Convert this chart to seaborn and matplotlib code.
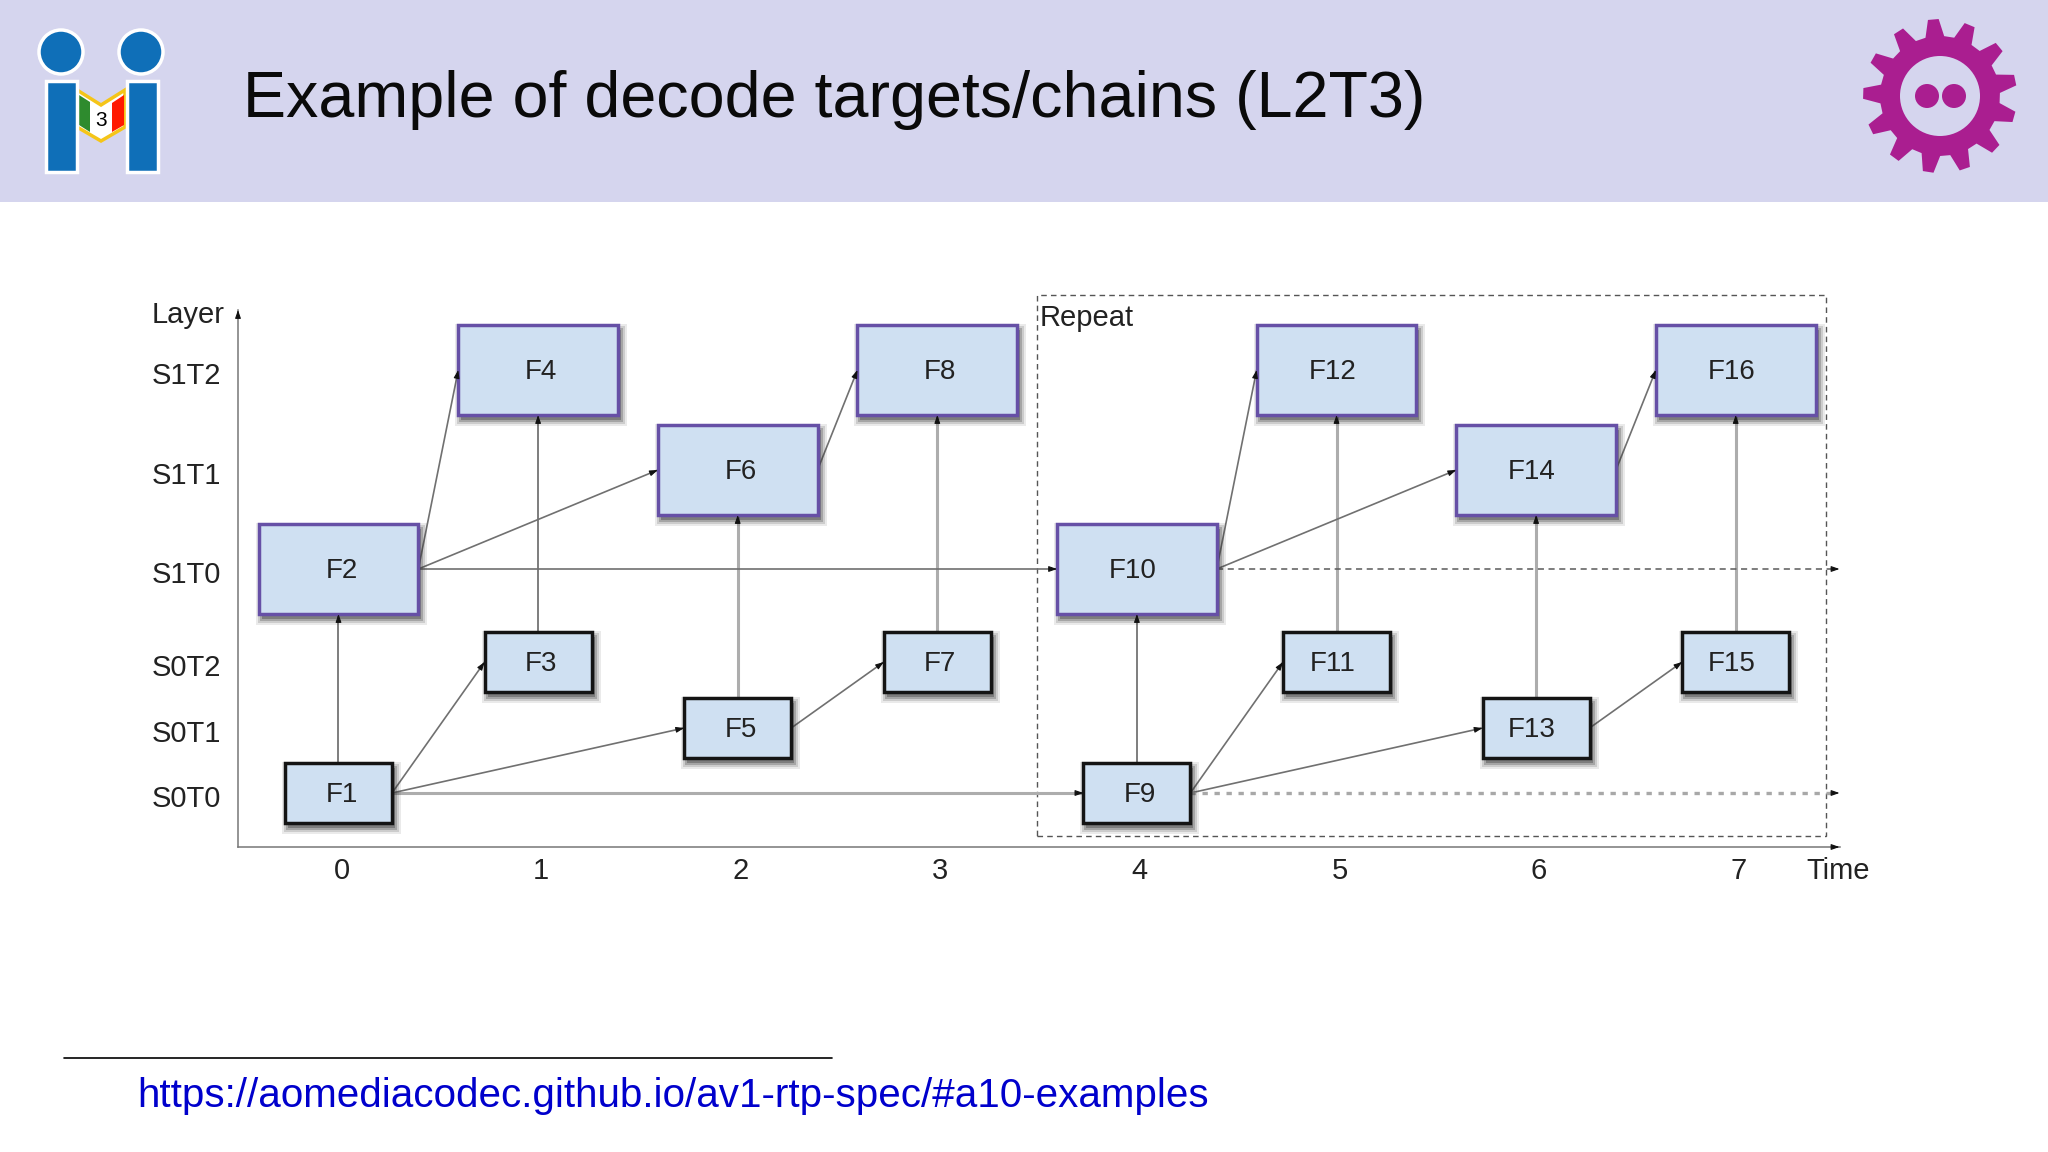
import numpy as np
import pandas as pd
import seaborn as sns
import matplotlib.pyplot as plt
from matplotlib.patches import Rectangle, Circle, Polygon
from matplotlib.transforms import ScaledTranslation

# values
layer_names = ["S0T0", "S0T1", "S0T2", "S1T0", "S1T1", "S1T2"]
layer_heights = [54, 119, 185, 278, 377, 477]
time_ticks = [0, 1, 2, 3, 4, 5, 6, 7]
frame_names = ["F1", "F2", "F3", "F4", "F5", "F6", "F7", "F8",
               "F9", "F10", "F11", "F12", "F13", "F14", "F15", "F16"]
frame_times = [0, 0, 1, 1, 2, 2, 3, 3, 4, 4, 5, 5, 6, 6, 7, 7]
frame_layers = ["S0T0", "S1T0", "S0T2", "S1T2", "S0T1", "S1T1", "S0T2", "S1T2",
                "S0T0", "S1T0", "S0T2", "S1T2", "S0T1", "S1T1", "S0T2", "S1T2"]
up_edges = [("F1", "F2"), ("F3", "F4"), ("F9", "F10")]
up_edges_grey = [("F5", "F6"), ("F7", "F8"), ("F11", "F12"), ("F13", "F14"), ("F15", "F16")]
side_edges = [("F1", "F3"), ("F1", "F5"), ("F5", "F7"), ("F2", "F4"), ("F2", "F6"), ("F6", "F8"),
              ("F2", "F10"),
              ("F9", "F11"), ("F9", "F13"), ("F13", "F15"), ("F10", "F12"), ("F10", "F14"), ("F14", "F16")]
side_edges_grey = [("F1", "F9")]
open_edges = [("F10", "dash"), ("F9", "dots")]
open_end_time = 7.5
repeat_box = (3.5, 7.45, 11, 552)

TITLE = "Example of decode targets/chains (L2T3)"
LINK = "https://aomediacodec.github.io/av1-rtp-spec/#a10-examples"

PX = 1 / 199.6  # one pixel in time units
FILL = "#CFE0F2"
TEXT = "#222222"


def box_size(name):
    layer = frame_layers[frame_names.index(name)]
    if layer.startswith("S1"):
        return 0.4, 45
    return 0.268, 30


def centre(name):
    i = frame_names.index(name)
    return frame_times[i], layer_heights[layer_names.index(frame_layers[i])]


def edge_rows():
    rows = []

    def add(kind, a, b):
        n = len(rows)
        rows.append({"edge": n, "kind": kind, "x": a[0], "y": a[1]})
        rows.append({"edge": n, "kind": kind, "x": b[0], "y": b[1]})

    for kind, pairs in (("thin", up_edges), ("grey", up_edges_grey)):
        for a, b in pairs:
            xa, ya = centre(a)
            xb, yb = centre(b)
            add(kind, (xa, ya + box_size(a)[1]), (xb, yb - box_size(b)[1]))
    for kind, pairs in (("side", side_edges), ("grey", side_edges_grey)):
        for a, b in pairs:
            xa, ya = centre(a)
            xb, yb = centre(b)
            add(kind, (xa + box_size(a)[0], ya), (xb - box_size(b)[0], yb))
    for a, kind in open_edges:
        xa, ya = centre(a)
        add(kind, (xa + box_size(a)[0], ya), (open_end_time, ya))
    return pd.DataFrame(rows)


def draw_slide(bg):
    bg.add_patch(Rectangle((0, 0), 2048, 202, color="#D5D5EE", lw=0))
    blue = "#0F6FB8"
    for cx, bar_x in ((61, 46), (141, 127)):
        bg.add_patch(Circle((cx, 52), 22, fc=blue, ec="white", lw=2.5))
        bg.add_patch(Rectangle((bar_x, 81), 31, 91, fc=blue, ec="white", lw=2.5, zorder=3))
    bg.add_patch(Polygon([(77, 90), (101, 105), (125, 90), (125, 127), (101, 141), (77, 127)],
                         fc="white", ec="#F5C518", lw=2.5, zorder=2))
    bg.add_patch(Polygon([(79, 95), (90, 102), (90, 132), (79, 125)], fc="#2E8B2E", lw=0, zorder=2))
    bg.add_patch(Polygon([(112, 103), (124, 95), (124, 125), (112, 132)], fc="#FF1A00", lw=0, zorder=2))
    bg.text(101, 120, "3", fontsize=15, ha="center", va="center", color="black", zorder=4)

    # gear logo
    purple = "#AA1E90"
    cx, cy = 1940, 96
    pts = []
    for k in range(13):
        a = np.deg2rad(95 + k * 360 / 13)
        for r, da in ((60, -9), (77, -4), (77, 4), (60, 9)):
            pts.append((cx + r * np.cos(a + np.deg2rad(da)), cy - r * np.sin(a + np.deg2rad(da))))
    bg.add_patch(Polygon(pts, fc=purple, lw=0))
    bg.add_patch(Circle((cx, cy), 40, fc="#D5D5EE", lw=0))
    bg.add_patch(Circle((1927, cy), 12, fc=purple, lw=0))
    bg.add_patch(Circle((1954, cy), 12, fc=purple, lw=0))

    bg.text(243, 100, TITLE, fontsize=46.5, va="center", ha="left", color="#0A0A0A")
    bg.plot([64, 832], [1058, 1058], color="black", lw=1.2)
    bg.text(137, 1096, LINK, fontsize=29.05, va="center", ha="left", color="#0000CC")
    bg.text(152, 315, "Layer", fontsize=21, va="center", color=TEXT)
    bg.text(1040, 318, "Repeat", fontsize=21, va="center", color=TEXT)
    bg.text(1806, 871, "Time", fontsize=21, va="center", color=TEXT)


def draw_frames(ax):
    for name in frame_names:
        x, y = centre(name)
        w, h = box_size(name)
        edge = "#6650A6" if h == 45 else "#141414"
        for grow, alpha in ((6, 0.10), (4, 0.16), (2, 0.25), (0, 0.35)):
            ax.add_patch(Rectangle((x - w + (3 - grow) * PX, y - h - 5 - grow),
                                   2 * w + (2 * grow) * PX, 2 * h + 2 * grow,
                                   fc="#333333", lw=0, alpha=alpha, zorder=3))
        ax.add_patch(Rectangle((x - w, y - h), 2 * w, 2 * h, fc=FILL, ec=edge, lw=2.5, zorder=4))
        shift = 3 if len(name) == 2 else -4
        ax.annotate(name, (x, y), xytext=(shift * 0.72, -1.2), textcoords="offset points",
                    ha="center", va="center", fontsize=20, color=TEXT, zorder=5)


def arrow_head(ax, end, start):
    end_px = ax.transData.transform(end)
    start_px = ax.transData.transform(start)
    d = (end_px - start_px) / np.linalg.norm(end_px - start_px)
    ax.annotate("", xy=end, xytext=(-d[0] * 5, -d[1] * 5), textcoords="offset points",
                arrowprops=dict(arrowstyle="-|>,head_length=0.4,head_width=0.14", color="#111111",
                                lw=0.8, shrinkA=0, shrinkB=0, mutation_scale=12),
                zorder=5, annotation_clip=False)


sns.set_theme(style="white")
plt.rcParams["font.family"] = ["Liberation Sans", "DejaVu Sans"]

fig = plt.figure(figsize=(20.48, 11.52), dpi=100)
bg = fig.add_axes([0, 0, 1, 1], zorder=0)
bg.set_xlim(0, 2048)
bg.set_ylim(1152, 0)
bg.axis("off")
draw_slide(bg)

ax = fig.add_axes([238 / 2048, (1152 - 847) / 1152, (1840 - 238) / 2048, (847 - 310) / 1152], zorder=1)
ax.patch.set_alpha(0)
edges = edge_rows()
sns.lineplot(data=edges, x="x", y="y", units="edge", estimator=None, sort=False,
             hue="kind", size="kind", style="kind",
             palette={"thin": "#5A5A5A", "side": "#707070", "grey": "#ADADAD", "dash": "#5A5A5A", "dots": "#A8A8A8"},
             sizes={"thin": 1.1, "side": 1.2, "grey": 2.2, "dash": 1.1, "dots": 2.4},
             dashes={"thin": "", "side": "", "grey": "", "dash": (4, 3), "dots": (1.6, 2)},
             legend=False, ax=ax, zorder=2)
ax.set_xlim(-0.5035, 7.5225)
ax.set_ylim(0, 537)
ax.set_xlabel("")
ax.set_ylabel("")
ax.set_xticks(time_ticks, [str(t) for t in time_ticks])
ax.set_yticks(layer_heights, layer_names)
ax.tick_params(axis="y", length=0, pad=62, labelsize=21, labelcolor=TEXT)
ax.tick_params(axis="x", length=0, pad=7, labelsize=21, labelcolor=TEXT)
for lab in ax.get_yticklabels():
    lab.set_ha("left")
    lab.set_transform(lab.get_transform() + ScaledTranslation(0, -3 / 100, fig.dpi_scale_trans))
for lab in ax.get_xticklabels():
    lab.set_transform(lab.get_transform() + ScaledTranslation(3 / 100, 0, fig.dpi_scale_trans))
sns.despine(ax=ax)
for side in ("left", "bottom"):
    ax.spines[side].set_color("#777777")
    ax.spines[side].set_linewidth(1.1)

x0, x1, y0, y1 = repeat_box
ax.add_patch(Rectangle((x0, y0), x1 - x0, y1 - y0, fill=False, ec="#555555", lw=1, ls=(0, (4, 3)),
                       zorder=1, clip_on=False))

draw_frames(ax)

for _, g in edges.groupby("edge"):
    if g["kind"].iloc[0] in ("dash", "dots"):
        continue
    a, b = g[["x", "y"]].to_numpy()
    arrow_head(ax, tuple(b), tuple(a))
for a, _ in open_edges:
    y = centre(a)[1]
    arrow_head(ax, (7.52, y), (7.3, y))
arrow_head(ax, (7.52, 0), (7.3, 0))
arrow_head(ax, (-0.5035, 537), (-0.5035, 400))

fig.savefig("out.png", dpi=100)
